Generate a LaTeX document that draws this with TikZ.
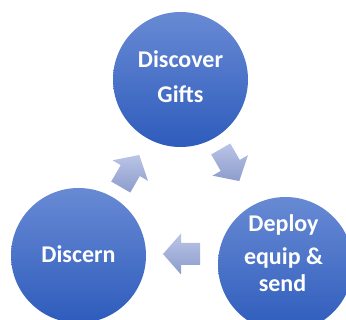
\documentclass[tikz,border=0pt]{standalone}
\usepackage{fontspec}
\setmainfont{Carlito}
\begin{document}
\begin{tikzpicture}[x=1pt,y=-1pt,
  stage/.style={circle,minimum size=135pt,inner sep=0pt,
    top color=circtop,bottom color=circbot,draw=none},
  caption/.style={anchor=base,text=white,font=\fontsize{24}{28}\selectfont\bfseries,inner sep=0pt},
  flow/.style={top color=arrtop,bottom color=arrbot,draw=none}]
\definecolor{circtop}{RGB}{104,138,212}
\definecolor{circbot}{RGB}{46,92,188}
\definecolor{arrtop}{RGB}{186,196,230}
\definecolor{arrbot}{RGB}{140,156,204}
\useasboundingbox (0,0) rectangle (346,320);
\begin{scope}
\clip (0,0) rectangle (346,320);
% the three stages of the cycle
\node[stage] (discover) at (180.5,79.5) {};
\node[stage] (deploy) at (285.5,264.5) {};
\node[stage] (discern) at (78.5,255.5) {};
\end{scope}
% labels
\node[caption] (discover-a) at ([yshift=11.5pt]discover.center) {Discover};
\node[caption] (discover-b) at ([yshift=-23.5pt]discover.center) {Gifts};
\node[caption] (deploy-a) at ([xshift=-2pt,yshift=32.5pt]deploy.center) {Deploy};
\node[caption] (deploy-b) at ([xshift=-2pt,yshift=-0.5pt]deploy.center) {equip \&};
\node[caption] (deploy-c) at ([xshift=-3pt,yshift=-27.5pt]deploy.center) {send};
\node[caption] (discern-a) at ([yshift=-7.5pt]discern.center) {Discern};
% block arrows between the stages
\foreach \cx/\cy/\ang in {130/171/60, 230/165/-60, 181.5/254/180}{
  \path[flow,shift={(\cx,\cy)},rotate=\ang]
    (-18.5,-11) -- (0.5,-11) -- (0.5,-20.5) -- (18.5,0) -- (0.5,20.5)
    -- (0.5,11) -- (-18.5,11) -- cycle;
}
\end{tikzpicture}
\end{document}
